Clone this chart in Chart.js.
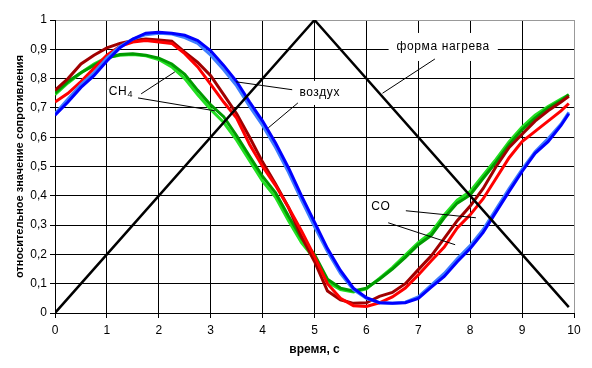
<!DOCTYPE html>
<html>
<head>
<meta charset="utf-8">
<script src="https://cdn.jsdelivr.net/npm/chart.js@4.4.1/dist/chart.umd.min.js"></script>
<style>
    html, body { margin: 0; padding: 0; background: #fff; }
</style>
</head>
<body>
<canvas id="myChart" width="592" height="368"></canvas>
<script>
// time, s
const times = [0, 0.25, 0.5, 0.75, 1, 1.25, 1.5, 1.75, 2, 2.25, 2.5, 2.75, 3, 3.25, 3.5, 3.75,
    4, 4.25, 4.5, 4.75, 5, 5.25, 5.5, 5.75, 6, 6.25, 6.5, 6.75, 7, 7.25, 7.5, 7.75,
    8, 8.25, 8.5, 8.75, 9, 9.25, 9.5, 9.75, 9.9];

// воздух (air)
const blue = [0.675, 0.72, 0.77, 0.81, 0.86, 0.905, 0.935, 0.955, 0.958, 0.955, 0.948, 0.93, 0.895, 0.845, 0.79, 0.72,
    0.655, 0.58, 0.495, 0.40, 0.31, 0.22, 0.145, 0.085, 0.052, 0.035, 0.033, 0.035, 0.05, 0.088, 0.125, 0.175,
    0.22, 0.275, 0.345, 0.415, 0.483, 0.545, 0.585, 0.64, 0.68];
const lightBlue = [0.68, 0.73, 0.78, 0.82, 0.87, 0.91, 0.935, 0.95, 0.955, 0.952, 0.94, 0.92, 0.88, 0.83, 0.775, 0.705,
    0.64, 0.565, 0.48, 0.385, 0.295, 0.21, 0.135, 0.08, 0.05, 0.035, 0.033, 0.037, 0.055, 0.095, 0.135, 0.185,
    0.23, 0.285, 0.355, 0.425, 0.49, 0.55, 0.595, 0.645, 0.685];

// CO
const red = [0.72, 0.75, 0.79, 0.835, 0.88, 0.91, 0.925, 0.93, 0.925, 0.92, 0.885, 0.84, 0.78, 0.72, 0.665, 0.575,
    0.50, 0.435, 0.36, 0.28, 0.193, 0.10, 0.05, 0.025, 0.022, 0.035, 0.055, 0.085, 0.13, 0.178, 0.225, 0.29,
    0.335, 0.39, 0.46, 0.53, 0.585, 0.62, 0.655, 0.69, 0.715];
const darkRed = [0.76, 0.80, 0.85, 0.88, 0.905, 0.92, 0.93, 0.935, 0.932, 0.928, 0.89, 0.855, 0.81, 0.745, 0.68, 0.60,
    0.515, 0.44, 0.36, 0.26, 0.176, 0.075, 0.045, 0.033, 0.035, 0.057, 0.07, 0.10, 0.148, 0.195, 0.255, 0.315,
    0.365, 0.425, 0.50, 0.565, 0.61, 0.655, 0.69, 0.72, 0.74];

// CH4
const green = [0.75, 0.79, 0.82, 0.845, 0.87, 0.882, 0.885, 0.88, 0.87, 0.85, 0.815, 0.76, 0.71, 0.67, 0.605, 0.535,
    0.466, 0.41, 0.33, 0.255, 0.199, 0.115, 0.085, 0.075, 0.085, 0.115, 0.15, 0.19, 0.233, 0.265, 0.325, 0.375,
    0.403, 0.46, 0.515, 0.575, 0.625, 0.665, 0.70, 0.725, 0.745];
const lightGreen = [0.745, 0.785, 0.82, 0.85, 0.872, 0.88, 0.882, 0.878, 0.865, 0.84, 0.80, 0.745, 0.695, 0.65, 0.59, 0.52,
    0.45, 0.395, 0.315, 0.24, 0.185, 0.105, 0.08, 0.072, 0.082, 0.118, 0.155, 0.198, 0.24, 0.275, 0.335, 0.385,
    0.415, 0.47, 0.525, 0.585, 0.635, 0.675, 0.705, 0.73, 0.745];

// форма нагрева (heating profile)
const heatTimes = [0, 5, 9.9];
const heatValues = [0, 1, 0.02];

const xTicks = [0, 1, 2, 3, 4, 5, 6, 7, 8, 9, 10];
const yTicks = [0, 0.1, 0.2, 0.3, 0.4, 0.5, 0.6, 0.7, 0.8, 0.9, 1];

const FONT = "'Liberation Sans', Arial, sans-serif";

function toPoints(xs, ys) {
    return xs.map((x, i) => ({ x: x, y: ys[i] }));
}

// text labels with leader lines, placed in data units
const notes = [
    { text: "форма нагрева", t: 7.48, v: 0.908, padX: 8, padY: 14,
      lines: [[7.32, 0.867, 6.31, 0.75]] },
    { text: "воздух", t: 5.1, v: 0.751, padX: 4, padY: 12,
      lines: [[4.57, 0.762, 3.49, 0.789], [4.68, 0.717, 4.11, 0.632]] },
    { text: "CH", sub: "4", t: 1.27, v: 0.755, padX: 2, padY: 11,
      lines: [[1.66, 0.748, 2.31, 0.823], [1.6, 0.734, 3.08, 0.69]] },
    { text: "CO", t: 6.28, v: 0.362, padX: 4, padY: 10,
      lines: [[6.76, 0.349, 8.11, 0.325], [6.42, 0.308, 7.71, 0.233]] },
];

function noteWidth(ctx, n) {
    ctx.letterSpacing = "0.6px";
    ctx.font = "12px " + FONT;
    let w = ctx.measureText(n.text).width;
    if (n.sub) {
        ctx.font = "9px " + FONT;
        w += ctx.measureText(n.sub).width;
    }
    return w;
}

const notesPlugin = {
    id: "notes",
    beforeDatasetsDraw(chart) {
        const { ctx, scales } = chart;
        ctx.save();
        ctx.fillStyle = "#fff";
        notes.forEach((n) => {
            const cx = scales.x.getPixelForValue(n.t);
            const cy = scales.y.getPixelForValue(n.v);
            const w = noteWidth(ctx, n);
            ctx.fillRect(cx - w / 2 - n.padX, cy - n.padY, w + 2 * n.padX, 2 * n.padY);
        });
        ctx.restore();
    },
    afterDatasetsDraw(chart) {
        const { ctx, scales } = chart;
        ctx.save();
        ctx.strokeStyle = "#000";
        ctx.lineWidth = 1;
        notes.forEach((n) => {
            n.lines.forEach((l) => {
                ctx.beginPath();
                ctx.moveTo(scales.x.getPixelForValue(l[0]), scales.y.getPixelForValue(l[1]));
                ctx.lineTo(scales.x.getPixelForValue(l[2]), scales.y.getPixelForValue(l[3]));
                ctx.stroke();
            });
            const cx = scales.x.getPixelForValue(n.t);
            const cy = scales.y.getPixelForValue(n.v);
            const w = noteWidth(ctx, n);
            ctx.fillStyle = "#000";
            ctx.textBaseline = "middle";
            ctx.textAlign = "left";
            ctx.font = "12px " + FONT;
            ctx.fillText(n.text, cx - w / 2, cy);
            if (n.sub) {
                const tw = ctx.measureText(n.text).width;
                ctx.font = "9px " + FONT;
                ctx.fillText(n.sub, cx - w / 2 + tw, cy + 3);
            }
        });
        ctx.restore();
    },
};

function line(label, data, color, width) {
    return {
        label: label,
        data: data,
        borderColor: color,
        borderWidth: width,
        pointRadius: 0,
        tension: 0,
        fill: false,
    };
}

const ctx = document.getElementById("myChart");

new Chart(ctx, {
    type: "line",
    data: {
        datasets: [
            line("форма нагрева", toPoints(heatTimes, heatValues), "#000000", 2.5),
            line("воздух", toPoints(times, blue), "#0000ff", 3),
            line("воздух 2", toPoints(times, lightBlue), "#3f7fff", 3),
            line("CO", toPoints(times, red), "#ff0000", 3),
            line("CO 2", toPoints(times, darkRed), "#a00000", 3),
            line("CH4", toPoints(times, green), "#009a00", 3),
            line("CH4 2", toPoints(times, lightGreen), "#22e022", 3),
        ],
    },
    options: {
        responsive: false,
        animation: false,
        layout: { padding: { top: 20, right: 18, left: 0, bottom: 0 } },
        plugins: {
            legend: { display: false },
            tooltip: { enabled: false },
        },
        scales: {
            x: {
                type: "linear",
                min: 0,
                max: 10,
                afterFit: (s) => { s.height = 55; },
                afterBuildTicks: (s) => { s.ticks = xTicks.map((v) => ({ value: v })); },
                ticks: {
                    color: "#000",
                    padding: 5,
                    maxRotation: 0,
                    font: { family: FONT, size: 12 },
                    callback: (v) => String(v),
                },
                grid: {
                    color: (c) => (c.tick && c.tick.value === 10 ? "#999" : "#000"),
                    tickColor: "#000",
                    tickLength: 5,
                    lineWidth: 1,
                },
                border: { color: "#000", width: 1 },
                title: {
                    display: true,
                    text: "время, с",
                    color: "#000",
                    font: { family: FONT, size: 12, weight: "bold" },
                    padding: { top: 0, bottom: 11 },
                },
            },
            y: {
                min: 0,
                max: 1,
                afterFit: (s) => { s.width = 55; },
                afterBuildTicks: (s) => { s.ticks = yTicks.map((v) => ({ value: v })); },
                ticks: {
                    color: "#000",
                    padding: 3,
                    font: { family: FONT, size: 12 },
                    callback: (v) => String(Math.round(v * 10) / 10).replace(".", ","),
                },
                grid: {
                    color: (c) => (c.tick && c.tick.value === 1 ? "#999" : "#000"),
                    tickColor: "#000",
                    tickLength: 5,
                    lineWidth: 1,
                },
                border: { color: "#000", width: 1 },
                title: {
                    display: true,
                    text: "относительное значение сопротивления",
                    color: "#000",
                    font: { family: FONT, size: 11, weight: "bold" },
                    padding: { top: 13, bottom: 0 },
                },
            },
        },
    },
    plugins: [notesPlugin],
});
</script>
</body>
</html>
